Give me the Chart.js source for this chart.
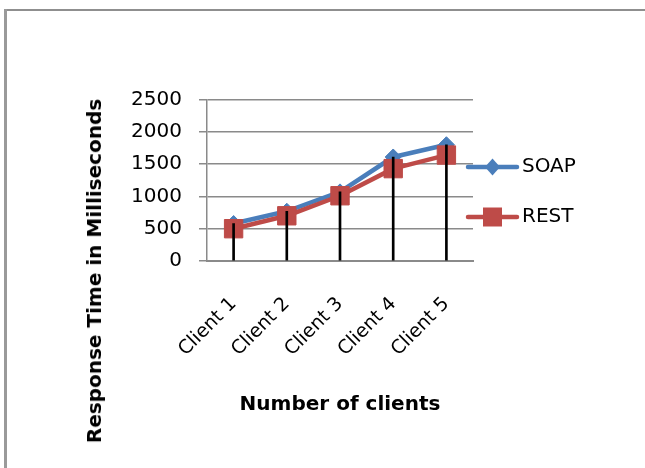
<!DOCTYPE html>
<html>
<head>
<meta charset="utf-8">
<script src="https://cdn.jsdelivr.net/npm/chart.js@4.4.0/dist/chart.umd.min.js"></script>
<style>
html,body{margin:0;padding:0;background:#fff;overflow:hidden;}
#wrap{position:relative;width:645px;height:468px;overflow:hidden;}
#chart{position:absolute;left:0;top:0;}
#ytitle{position:absolute;left:94px;top:271px;transform:translate(-50%,-50%) rotate(-90deg);font:bold 20px "DejaVu Sans";white-space:nowrap;color:#000;}
</style>
</head>
<body>
<div id="wrap">
  <canvas id="chart" width="645" height="468"></canvas>
  <div id="ytitle">Response Time in Milliseconds</div>
</div>
<script>
// Data
const clients = ['Client 1','Client 2','Client 3','Client 4','Client 5'];
const soap = [580, 770, 1070, 1610, 1800];
const rest = [500, 700, 1010, 1430, 1640];
const yTicks = [0, 500, 1000, 1500, 2000, 2500];
const seriesNames = ['SOAP','REST'];
const seriesColors = ['#4A7EBB','#BE4B48'];
const seriesMarkers = ['rectRot','rect'];
const xTitle = 'Number of clients';

Chart.defaults.font.family = '"DejaVu Sans"';
Chart.defaults.font.size = 20;
Chart.defaults.color = '#000';

// Legenda symbool: lijn met marker
function legendIcon(color, marker){
    const c = document.createElement('canvas');
    c.width = 55; c.height = 22;
    const g = c.getContext('2d');
    g.strokeStyle = color; g.fillStyle = color;
    g.lineWidth = 4.5; g.lineCap = 'round';
    g.beginPath(); g.moveTo(3,11); g.lineTo(52,11); g.stroke();
    g.beginPath();
    if(marker==='rect') g.rect(27.5-9.5,11-9.5,19,19);
    else { g.moveTo(27.5,2.5); g.lineTo(35,11); g.lineTo(27.5,19.5); g.lineTo(20,11); g.closePath(); }
    g.fill();
    return c;
}
const icons = seriesNames.map((n,i)=>legendIcon(seriesColors[i], seriesMarkers[i]));

// Legenda op de juiste plek zetten + kader
const legendPlace = {
    id:'legendPlace',
    afterLayout(chart){
        const lg = chart.legend;
        lg.left = 443; lg.top = 123; lg.bottom = 261;
    },
    beforeDraw(chart){
        const ctx = chart.ctx;
        ctx.save();
        ctx.fillStyle = '#fff';
        ctx.fillRect(0, 0, chart.width, chart.height);
        ctx.fillStyle = '#8f8f8f';
        ctx.fillRect(4, 9, chart.width - 4, 2);
        ctx.fillStyle = '#9a9a9a';
        ctx.fillRect(4, 9, 3, chart.height - 9);
        ctx.restore();
    }
};

const drops = soap.map((v,i)=>Math.max(v, rest[i]));

new Chart(document.getElementById('chart').getContext('2d'),{
    type:'line',
    data:{
        labels:clients,
        datasets:[
            {label:seriesNames[0], data:soap, borderColor:seriesColors[0], backgroundColor:seriesColors[0],
             borderWidth:4.5, pointStyle:seriesMarkers[0], pointRadius:8, pointBorderWidth:1,
             borderJoinStyle:'round', tension:0, clip:false, order:2},
            {label:seriesNames[1], data:rest, borderColor:seriesColors[1], backgroundColor:seriesColors[1],
             borderWidth:4.5, pointStyle:seriesMarkers[1], pointRadius:13, pointBorderWidth:1,
             borderJoinStyle:'round', tension:0, clip:false, order:1},
            {type:'bar', label:'drop', data:drops, backgroundColor:'#000', barThickness:2, order:0}
        ]
    },
    options:{
        responsive:false,
        animation:false,
        events:[],
        layout:{padding:{left:0, top:99.5, right:52, bottom:51}},
        plugins:{
            tooltip:{enabled:false},
            legend:{
                position:'right',
                maxWidth:120,
                labels:{
                    usePointStyle:true,
                    pointStyleWidth:39,
                    padding:30,
                    font:{size:20},
                    generateLabels:()=>seriesNames.map((n,i)=>({
                        text:n, pointStyle:icons[i], datasetIndex:i, fontColor:'#000',
                        fillStyle:seriesColors[i], strokeStyle:seriesColors[i], lineWidth:0, hidden:false
                    }))
                }
            }
        },
        scales:{
            x:{
                offset:true,
                grid:{display:false, drawTicks:false},
                border:{display:true, color:'#8a8a8a', width:2},
                ticks:{minRotation:45, maxRotation:45, autoSkip:false, padding:32, font:{size:19}},
                title:{display:true, text:xTitle, font:{size:20, weight:'bold'}, padding:0},
                afterFit:s=>{ s.height = 156; }
            },
            y:{
                min:0, max:2500,
                afterBuildTicks:s=>{ s.ticks = yTicks.map(v=>({value:v})); },
                grid:{color:'#8a8a8a', lineWidth:1.5, tickLength:8},
                border:{display:true, color:'#8a8a8a', width:1.5},
                ticks:{padding:17, callback:v=>String(v)},
                afterFit:s=>{ s.width = 207; }
            }
        }
    },
    plugins:[legendPlace]
});
</script>
</body>
</html>
